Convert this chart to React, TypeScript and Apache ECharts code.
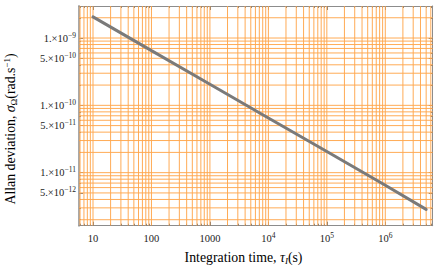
import { useEffect, useRef } from 'react';
import * as echarts from 'echarts';

// Data (integration time in s, Allan deviation in rad/s)
const tau = [10, 100, 1000, 1e4, 1e5, 1e6, 5e6];
const sigma = [2.06e-9, 6.5e-10, 2.06e-10, 6.5e-11, 2.06e-11, 6.5e-12, 2.85e-12];

// Tick labels
const xLabelTicks = [10, 100, 1000, 1e4, 1e5, 1e6];
const yLabelTicks = [5e-12, 1e-11, 5e-11, 1e-10, 5e-10, 1e-9];

// Grid line mantissas and decades
const mantissas = [1, 2, 3, 4, 5, 6, 7, 8, 9];
const xDecades = [1, 10, 100, 1000, 1e4, 1e5, 1e6];
const yDecades = [1e-12, 1e-11, 1e-10, 1e-9];

const X_MIN = 5.76;
const X_MAX = 6.47e6;
const Y_MIN = 1.63e-12;
const Y_MAX = 2.99e-9;

const FONT = 'Liberation Serif';
const ORANGE = '#ffa64d';
const FRAME = '#8c8c8c';

export default function App() {
  const ref = useRef<HTMLDivElement>(null);
  useEffect(() => {
    if (!ref.current) return;
    const chart = echarts.init(ref.current, undefined, { renderer: 'svg' });

    const xGrid: number[] = [];
    xDecades.forEach((d) => mantissas.forEach((m) => {
      const v = m * d;
      if (v >= X_MIN && v <= X_MAX) xGrid.push(v);
    }));
    const yGrid: number[] = [];
    yDecades.forEach((d) => mantissas.forEach((m) => {
      const v = m * d;
      if (v >= Y_MIN && v <= Y_MAX) yGrid.push(v);
    }));
    // [orientation (0 = vertical, 1 = horizontal), value]
    const gridData: [number, number][] = [
      ...xGrid.map((v) => [0, v] as [number, number]),
      ...yGrid.map((v) => [1, v] as [number, number]),
    ];

    const labelRich = {
      n: { fontFamily: FONT, fontSize: 10.5, color: '#222', lineHeight: 14, verticalAlign: 'middle' as const },
      s: { fontFamily: FONT, fontSize: 7.5, color: '#222', lineHeight: 7, verticalAlign: 'top' as const },
    };

    const xFmt = (v: number) => {
      if (v <= 1000) return `{n|${Math.round(v)}}`;
      const e = Math.round(Math.log10(v));
      return `{n|10}{s|${e}}`;
    };
    const yFmt = (v: number) => {
      const e = Math.floor(Math.log10(v) + 1e-9);
      const m = Math.round(v / Math.pow(10, e));
      return `{n|${m}.×10}{s|−${-e}}`;
    };

    const baseX = { type: 'log' as const, min: X_MIN, max: X_MAX, logBase: 10 };
    const baseY = { type: 'log' as const, min: Y_MIN, max: Y_MAX, logBase: 10 };
    const off = {
      minorTick: { show: false },
      minorSplitLine: { show: false },
      splitArea: { show: false },
      splitLine: { show: false },
    };

    const mkX = (position: 'bottom' | 'top', major: boolean, labels: boolean) => ({
      ...baseX,
      ...off,
      position,
      axisLine: { show: major, lineStyle: { color: FRAME, width: 1 } },
      axisTick: {
        show: true, inside: true, length: major ? 4 : 2,
        customValues: major ? xLabelTicks : xGrid,
        lineStyle: { color: '#777', width: 1 },
      },
      axisLabel: labels
        ? { show: true, customValues: xLabelTicks, formatter: xFmt, rich: labelRich, margin: 6 }
        : { show: false },
    });
    const mkY = (position: 'left' | 'right', major: boolean, labels: boolean) => ({
      ...baseY,
      ...off,
      position,
      axisLine: { show: major, lineStyle: { color: position === 'left' ? '#a8a8a8' : FRAME, width: position === 'left' ? 2 : 1 } },
      axisTick: {
        show: true, inside: true, length: major ? 4 : 2,
        customValues: major ? yLabelTicks : yGrid,
        lineStyle: { color: '#777', width: 1 },
      },
      axisLabel: labels
        ? { show: true, customValues: yLabelTicks, formatter: yFmt, rich: labelRich, margin: 3 }
        : { show: false },
    });

    const nameRich = {
      n: { fontFamily: FONT, fontSize: 13.8, color: '#222', lineHeight: 16, verticalAlign: 'middle' as const },
      t: { fontFamily: FONT, fontSize: 13.8, fontStyle: 'italic' as const, color: '#222', lineHeight: 16, verticalAlign: 'middle' as const },
      sub: { fontFamily: FONT, fontSize: 9, fontStyle: 'italic' as const, color: '#222', lineHeight: 8, verticalAlign: 'bottom' as const },
      subn: { fontFamily: FONT, fontSize: 9, color: '#222', lineHeight: 8, verticalAlign: 'bottom' as const },
      sup: { fontFamily: FONT, fontSize: 9, color: '#222', lineHeight: 8, verticalAlign: 'top' as const },
    };

    chart.setOption({
      animation: false,
      tooltip: { show: false },
      grid: { left: 79, right: 3.3, top: 6, bottom: 45.3, containLabel: false },
      xAxis: [
        mkX('bottom', true, true),
        mkX('bottom', false, false),
        mkX('top', true, false),
        mkX('top', false, false),
      ],
      yAxis: [
        mkY('left', true, true),
        mkY('left', false, false),
        mkY('right', true, false),
        mkY('right', false, false),
      ],
      series: [
        {
          type: 'custom',
          xAxisIndex: 0,
          yAxisIndex: 0,
          silent: true,
          z: 1,
          clip: true,
          data: gridData,
          encode: { x: -1, y: -1 },
          renderItem: (params: any, api: any) => {
            const kind = api.value(0);
            const v = api.value(1);
            let p1: number[];
            let p2: number[];
            if (kind === 0) {
              p1 = api.coord([v, Y_MIN]);
              p2 = api.coord([v, Y_MAX]);
            } else {
              p1 = api.coord([X_MIN, v]);
              p2 = api.coord([X_MAX, v]);
            }
            return {
              type: 'line',
              shape: { x1: p1[0], y1: p1[1], x2: p2[0], y2: p2[1] },
              style: { stroke: ORANGE, lineWidth: 1, opacity: 0.95 },
            };
          },
        },
        {
          type: 'line',
          xAxisIndex: 0,
          yAxisIndex: 0,
          data: tau.map((t, i) => [t, sigma[i]]),
          showSymbol: false,
          symbol: 'none',
          lineStyle: { color: '#7a7a7a', width: 3, cap: 'round' },
          z: 5,
        },
      ],
      graphic: [
        {
          type: 'text',
          x: 243.5,
          y: 257,
          style: {
            text: '{n|Integration time, }{t|τ}{sub|I}{n|(s)}',
            rich: nameRich,
            align: 'center',
            verticalAlign: 'middle',
          },
        },
        {
          type: 'text',
          x: 10.5,
          y: 129,
          rotation: Math.PI / 2,
          style: {
            text: '{n|Allan deviation, }{t|σ}{subn|Ω}{n|(rad.s}{sup|−1}{n|)}',
            rich: nameRich,
            align: 'center',
            verticalAlign: 'middle',
          },
        },
      ],
    });
    return () => chart.dispose();
  }, []);
  return <div ref={ref} style={{ width: 436, height: 271, position: 'absolute', left: 0, top: 0 }} />;
}
